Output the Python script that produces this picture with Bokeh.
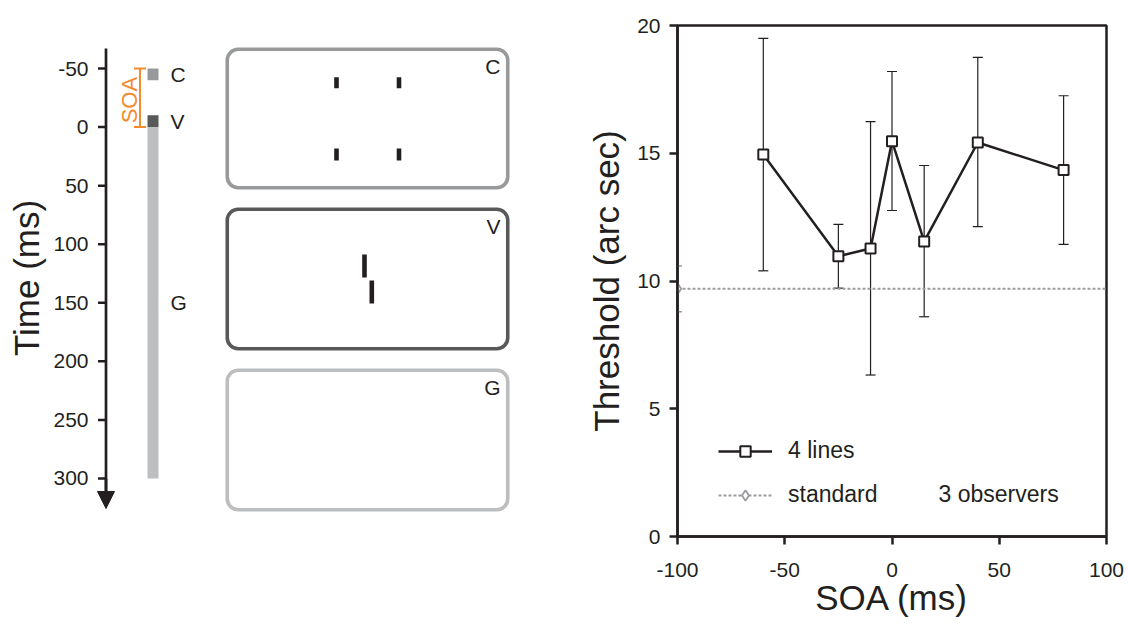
import math
from bokeh.plotting import figure
from bokeh.layouts import row
from bokeh.models import (Range1d, FixedTicker, Legend, LegendItem, Label, Whisker,
                          ColumnDataSource, Arrow, NormalHead, TeeHead)
from bokeh.embed import file_html
from bokeh.resources import INLINE
from bokeh.core.properties import value

FONT = "Liberation Sans"
INK = "#231f20"
ORANGE = "#f58a2a"
STD_GRAY = "#9a9c9f"

# ---------------- data: threshold vs SOA ----------------
soa = [-60, -25, -10, 0, 15, 40, 80]
threshold = [14.95, 10.97, 11.27, 15.47, 11.55, 15.42, 14.34]
err_upper = [19.5, 12.22, 16.24, 18.2, 14.52, 18.75, 17.25]
err_lower = [10.4, 9.72, 6.32, 12.76, 8.6, 12.13, 11.43]
standard_soa = [-100]
standard_threshold = [9.7]
standard_upper = [10.59]
standard_lower = [8.8]
x_ticks = [-100, -50, 0, 50, 100]
y_ticks = [0, 5, 10, 15, 20]

# ---------------- data: trial timeline ----------------
time_ticks = [-50, 0, 50, 100, 150, 200, 250, 300]
events = ["C", "V", "G"]
event_start = [-50, -10, 0]
event_end = [-40, 0, 300]
event_colors = ["#97999b", "#58595b", "#bcbec0"]
soa_start = -50
soa_end = 0

TOP, BOTTOM, H = 25, 88, 624


def down(values):
    """time runs downwards: plot -t on an ordinary upward scale"""
    return [-v for v in values]


# ---------------- timeline panel ----------------
tl = figure(width=215, height=H, x_range=Range1d(0, 215), y_range=Range1d(-349.52, 86.71),
            output_backend="svg", toolbar_location=None, x_axis_location=None,
            y_axis_location=None, min_border_left=0, min_border_right=0,
            min_border_top=TOP, min_border_bottom=BOTTOM)
tl.grid.visible = False
tl.outline_line_color = None
AX = 105.5
# axis line, ticks, tick labels, title
tl.segment(x0=[AX], y0=down([-67.07]), x1=[AX], y1=down([312]), line_color=INK, line_width=2.7)
tl.segment(x0=[AX - 8] * len(time_ticks), y0=down(time_ticks), x1=[AX] * len(time_ticks),
           y1=down(time_ticks), line_color=INK, line_width=2.5)
tl.text(x=[AX - 17.5] * len(time_ticks), y=down(time_ticks), text=[str(t) for t in time_ticks],
        text_font=value(FONT), text_font_size="21px", text_color=INK,
        text_align="right", text_baseline="middle")
tl.text(x=[25.5], y=down([128.8]), text=["Time (ms)"], angle=math.pi / 2, text_font=value(FONT),
        text_font_size="35px", text_color=INK, text_align="center",
        text_baseline="middle")
tl.add_layout(Arrow(end=NormalHead(size=17, fill_color=INK, line_color=INK),
                    x_start=AX, y_start=-time_ticks[-1], x_end=AX, y_end=-325.6,
                    line_color=INK, line_width=2.7))

tl.quad(left=147, right=158, top=down(event_start), bottom=down(event_end),
        fill_color=event_colors, line_color=None)
mids = [(a + b) / 2 for a, b in zip(event_start, event_end)]
tl.text(x=[170] * 3, y=down(mids), text=events, text_font=value(FONT), text_font_size="21px",
        text_color=INK, text_align="left", text_baseline="middle")
# SOA bracket
tl.segment(x0=[139.5, 133.5, 133.5], y0=down([soa_start, soa_start, soa_end]),
           x1=[139.5, 145.5, 145.5], y1=down([soa_end, soa_start, soa_end]),
           line_color=ORANGE, line_width=2)
tl.text(x=[128.5], y=down([(soa_start + soa_end) / 2 + 2]), text=["SOA"], angle=math.pi / 2,
        text_font=value(FONT), text_font_size="22px", text_color=ORANGE,
        text_align="center", text_baseline="middle")

# ---------------- stimulus frames panel ----------------
bx = figure(width=333, height=H, x_range=Range1d(0, 333), y_range=Range1d(80, 591),
            output_backend="svg", toolbar_location=None, x_axis_location=None,
            y_axis_location=None, min_border_left=0, min_border_right=0,
            min_border_top=TOP, min_border_bottom=BOTTOM)
bx.grid.visible = False
bx.outline_line_color = None
box_top = [567.25, 407.25, 246.25]
box_bottom = [428.75, 267.75, 106.75]
bx.quad(left=11.75, right=292.25, top=box_top, bottom=box_bottom, fill_color=None,
        line_color=event_colors, line_width=3.6, border_radius=11)
bx.text(x=[285] * 3, y=[550.5, 390.5, 229], text=events, text_font=value(FONT),
        text_font_size="21px", text_color=INK, text_align="right", text_baseline="middle")
# cue marks in frame C and vernier in frame V
bx.quad(left=[118.7, 181.2, 118.7, 181.2, 146.7, 154.0],
        right=[123.3, 185.8, 123.3, 185.8, 151.3, 158.6],
        top=[539.3, 539.3, 468, 468, 362, 336],
        bottom=[528.3, 528.3, 456, 456, 339, 313],
        fill_color=INK, line_color=None)

# ---------------- threshold chart ----------------
p = figure(width=580, height=H, x_range=Range1d(x_ticks[0], x_ticks[-1]),
           y_range=Range1d(y_ticks[0], y_ticks[-1]),
           output_backend="svg", toolbar_location=None,
           min_border_left=129, min_border_right=22, min_border_top=TOP, min_border_bottom=BOTTOM)
p.grid.visible = False
p.outline_line_color = INK
p.outline_line_width = 2.5
for ax, ticks, lab in ((p.xaxis[0], x_ticks, "SOA (ms)"), (p.yaxis[0], y_ticks, "Threshold (arc sec)")):
    ax.ticker = FixedTicker(ticks=ticks)
    ax.major_label_overrides = {t: str(t) for t in ticks}
    ax.axis_label = lab
    ax.axis_label_text_font = FONT
    ax.axis_label_text_font_size = "35px"
    ax.axis_label_text_font_style = "normal"
    ax.axis_label_text_color = INK
    ax.major_label_text_font = FONT
    ax.major_label_text_font_size = "21px"
    ax.major_label_text_color = INK
    ax.axis_line_color = INK
    ax.axis_line_width = 2.5
    ax.major_tick_line_color = INK
    ax.major_tick_line_width = 2.5
    ax.major_tick_in = 0
    ax.major_tick_out = 8
    ax.minor_tick_line_color = None
p.xaxis[0].major_label_standoff = 18
p.xaxis[0].axis_label_standoff = -2
p.yaxis[0].major_label_standoff = 9
p.yaxis[0].axis_label_standoff = 8

src = ColumnDataSource(dict(x=soa, y=threshold, upper=err_upper, lower=err_lower))
std_src = ColumnDataSource(dict(x=standard_soa, y=standard_threshold,
                                upper=standard_upper, lower=standard_lower))

# standard reference (dotted line across the SOA range)
std_line = p.line(x=[x_ticks[0], x_ticks[-1]], y=standard_threshold * 2, line_color=STD_GRAY,
                  line_width=2, line_dash="3 2")
p.add_layout(Whisker(source=std_src, base="x", upper="upper", lower="lower",
                     dimension="height", line_color=STD_GRAY, line_width=1.5,
                     upper_head=TeeHead(size=9, line_color=STD_GRAY, line_width=1.5),
                     lower_head=TeeHead(size=9, line_color=STD_GRAY, line_width=1.5)))
std_mark = p.scatter(x="x", y="y", source=std_src, marker="diamond", size=11,
                     fill_color="white", line_color=STD_GRAY, line_width=1.8)

p.add_layout(Whisker(source=src, base="x", upper="upper", lower="lower",
                     dimension="height", line_color=INK, line_width=1.2,
                     upper_head=TeeHead(size=10, line_color=INK, line_width=1.2),
                     lower_head=TeeHead(size=10, line_color=INK, line_width=1.2)))
main_line = p.line(x="x", y="y", source=src, line_color=INK, line_width=2.5)
main_mark = p.scatter(x="x", y="y", source=src, marker="square", size=10,
                      fill_color="white", line_color=INK, line_width=2)

legend = Legend(items=[LegendItem(label="4 lines", renderers=[main_line, main_mark]),
                       LegendItem(label="standard", renderers=[std_line, std_mark])],
                location=(41, 28), glyph_width=54, glyph_height=26, label_height=26,
                spacing=17, label_standoff=16, padding=0, margin=0,
                border_line_color=None, background_fill_alpha=0,
                label_text_font=FONT, label_text_font_size="23px", label_text_color=INK)
p.add_layout(legend)
p.add_layout(Label(x=21.7, y=1.68, text="3 observers", text_font=FONT, text_font_size="23px",
                   text_color=INK, text_align="left", text_baseline="middle"))

layout = row(tl, bx, p)
open("out.html", "w").write(file_html(layout, INLINE))
